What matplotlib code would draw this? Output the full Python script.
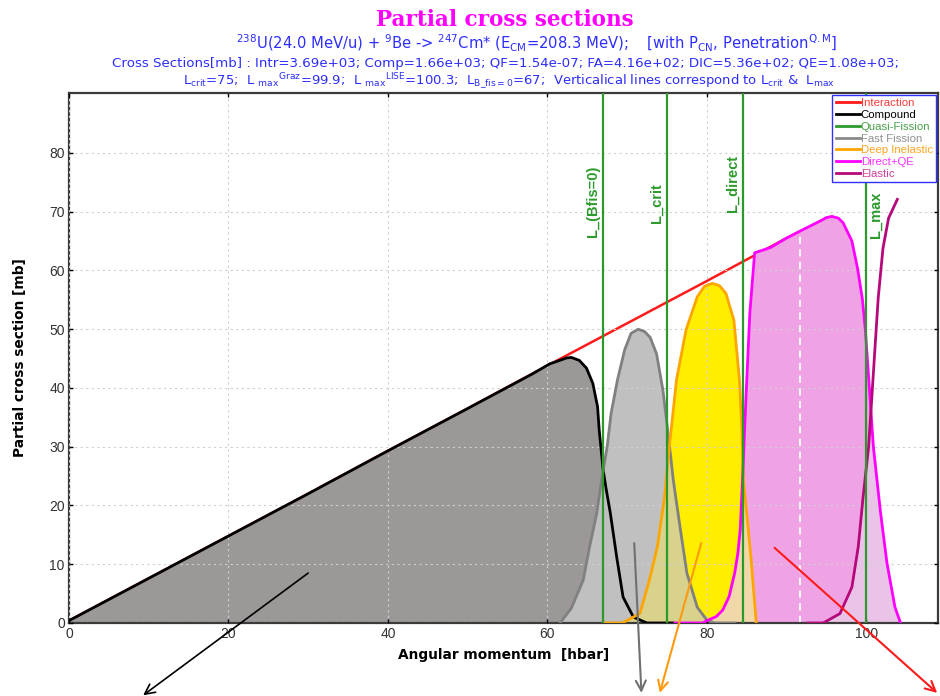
import matplotlib
matplotlib.use("Agg")
import matplotlib.pyplot as plt
from matplotlib.lines import Line2D

plt.rcParams['font.family'] = ['Liberation Sans', 'DejaVu Sans']
plt.rcParams['mathtext.fontset'] = 'dejavusans'

# ---- data (L in hbar, sigma in mb) ----
L_int = [0, 10, 20, 30, 40, 50, 60, 70, 80, 90, 94]
s_int = [0.4, 7.6, 14.8, 22.0, 29.3, 36.5, 43.8, 51.0, 58.2, 65.5, 68.2]

L_comp = [0, 10, 20, 30, 40, 50, 58, 60.3, 62.4, 63.0, 64.0, 64.9, 65.7, 66.3,
          66.5, 67.0, 67.4, 67.9, 68.7, 69.5, 70.8, 72.5, 75.7]
s_comp = [0.4, 7.6, 14.8, 22.0, 29.3, 36.5, 42.3, 44.1, 45.1, 45.2, 44.7, 43.4, 40.8, 36.8,
          32.9, 26.0, 22.6, 18.7, 11.2, 4.4, 1.0, 0.0, 0.0]

L_ff = [61.6, 63.0, 64.5, 65.3, 66.2, 66.8, 67.5, 68.0, 68.8, 69.7, 70.5, 71.4, 72.2, 72.9,
        73.7, 74.5, 75.2, 75.8, 76.7, 77.5, 78.8, 80.0, 81.0, 83.5]
s_ff = [0, 2.5, 7.3, 13.0, 18.7, 24.3, 30.0, 35.7, 41.4, 46.5, 49.3, 50.0, 49.6, 48.6,
        45.8, 39.6, 31.6, 24.3, 15.8, 8.5, 2.7, 0.5, 0, 0]

L_dic = [67.0, 69.4, 71.6, 72.8, 73.8, 74.7, 75.3, 76.2, 77.4, 78.8, 79.7, 80.7, 81.6,
         82.4, 83.4, 84.1, 84.4, 84.6, 85.0, 85.6, 86.2]
s_dic = [0, 0, 1.6, 7.3, 13.0, 21.4, 30.0, 41.4, 49.9, 55.5, 57.3, 57.8, 57.4,
         56.1, 51.5, 41.3, 32.9, 24.3, 18.7, 10.2, 0]

L_dq = [76.0, 79.5, 80.0, 81.2, 82.0, 82.8, 83.5, 83.9, 84.2, 84.5, 84.9, 85.4, 86.0,
        88.0, 90.0, 92.0, 94.2, 95.0, 95.7, 96.5, 97.1, 98.2, 98.9, 99.5, 99.9, 100.3,
        100.9, 101.8, 102.6, 103.6, 104.3]
s_dq = [0, 0, 0.4, 1.1, 2.2, 4.5, 8.5, 11.9, 16.0, 25.0, 38.0, 52.8, 63.0,
        63.9, 65.5, 66.9, 68.4, 69.0, 69.2, 68.9, 68.1, 65.0, 60.4, 55.3, 49.7, 41.8,
        29.9, 18.7, 10.2, 2.7, 0]

L_el = [92.7, 94.6, 96.7, 98.2, 99.0, 99.6, 100.3, 100.7, 101.1, 101.5, 102.1, 102.8, 103.9]
s_el = [0, 0, 1.6, 6.1, 13.0, 21.4, 30.0, 38.4, 46.9, 55.3, 63.8, 68.9, 72.1]

L_BFIS0 = 67.0
L_CRIT = 75.0
L_DIRECT = 84.5
L_MAX = 100.0
L_DASH, S_DASH = 91.7, 66.9

xticks = [0, 20, 40, 60, 80, 100]
yticks = [0, 10, 20, 30, 40, 50, 60, 70, 80]

GREEN = '#2b9a2b'

fig = plt.figure(figsize=(9.4, 6.96), dpi=100)
ax = fig.add_axes([69 / 940, 1 - 623 / 696, 869 / 940, 530 / 696])
ax.set_xlim(0, 109)
ax.set_ylim(0, 90.2)
renderer = fig.canvas.get_renderer()


def fit(t, target, vertical=False):
    bb = t.get_window_extent(renderer=renderer)
    size = bb.height if vertical else bb.width
    t.set_fontsize(t.get_fontsize() * target / size)


# fills
ax.plot(L_int, s_int, color='#ff1a1a', lw=1.8, zorder=0.5)
comp = ax.fill_between(L_comp, 0, s_comp, color='#9c9898', lw=0, zorder=1)
ff = ax.fill_between(L_ff, 0, s_ff, color='#c0c0c0', lw=0, zorder=1.1)
dic = ax.fill_between(L_dic, 0, s_dic, color='#ffee00', lw=0, zorder=1.2)
dic_path = dic.get_paths()[0]
k1 = ax.fill_between(L_ff, 0, s_ff, color='#d8d28c', lw=0, zorder=1.3)
k1.set_clip_path(dic_path, ax.transData)
k2 = ax.fill_between(L_comp, 0, s_comp, color='#d8d28c', lw=0, zorder=1.3)
k2.set_clip_path(dic_path, ax.transData)
dq = ax.fill_between(L_dq, 0, s_dq, color='#efa3e5', lw=0, zorder=1.4)
tan = ax.fill_between(L_dq, 0, s_dq, color='#f1d8a9', lw=0, zorder=1.5)
tan.set_clip_path(dic_path, ax.transData)
el = ax.fill_between(L_el, 0, s_el, color='#eac4e8', lw=0, zorder=1.6)
el.set_clip_path(dq.get_paths()[0], ax.transData)
ax.vlines(L_DASH, 0, S_DASH, colors='white', linestyles=(0, (4, 3)), lw=1.3, zorder=1.7)

# curves
ax.plot(L_comp, s_comp, color='black', lw=2, zorder=3)
ax.plot(L_ff, s_ff, color='#808080', lw=2, zorder=3)
ax.plot(L_dic, s_dic, color='#ffa500', lw=2, zorder=3.1)
ax.plot(L_dq, s_dq, color='#ff00ff', lw=2, zorder=3.2)
ax.plot(L_el, s_el, color='#b5087a', lw=2, zorder=3.3)

# vertical lines + labels
for xv in [L_BFIS0, L_CRIT, L_DIRECT, L_MAX]:
    ax.axvline(xv, color=GREEN, lw=1.6, zorder=4)
lab_kw = dict(rotation=90, color=GREEN, fontsize=10.5, fontweight='bold', va='bottom', zorder=5)
ax.text(L_BFIS0 - 0.4, 65.7, 'L_(Bfis=0)', ha='right', **lab_kw)
ax.text(L_CRIT - 0.4, 68.1, 'L_crit', ha='right', **lab_kw)
ax.text(L_DIRECT - 0.4, 70.0, 'L_direct', ha='right', **lab_kw)
ax.text(L_MAX + 0.3, 65.5, 'L_max', ha='left', **lab_kw)

# arrows below the plot
arrows = [((30.0, 8.5), (9.3, -12.3), 'black', 1.2),
          ((70.9, 13.6), (71.8, -11.9), '#707070', 1.5),
          ((79.3, 13.6), (74.1, -11.9), '#ff9a10', 1.5),
          ((88.5, 12.8), (108.9, -11.9), '#ff1a1a', 1.5)]
for start, end, c, w in arrows:
    ax.annotate('', xy=end, xytext=start, annotation_clip=False, zorder=6,
                arrowprops=dict(arrowstyle='->', color=c, lw=w, mutation_scale=18,
                                shrinkA=0, shrinkB=0))

# axes styling
ax.set_xticks(xticks)
ax.set_yticks(yticks)
ax.set_axisbelow(False)
ax.grid(True, color='#cfcfcf', linestyle=(0, (2, 3)), lw=0.8)
ax.tick_params(direction='in', length=3, width=1, top=True, right=True,
               labelsize=10, labelcolor='#333333', pad=3)
for sp in ax.spines.values():
    sp.set_linewidth(1.6)
    sp.set_color('#3a3a3a')
xl = ax.set_xlabel('Angular momentum  [hbar]', fontsize=10.5, fontweight='bold',
                   family='DejaVu Sans', va='center')
yl = ax.set_ylabel('Partial cross section [mb]', fontsize=10.5, fontweight='bold',
                   family='DejaVu Sans', va='center')
ax.xaxis.set_label_coords(0.5, -32 / 530)
ax.yaxis.set_label_coords(-49 / 869, 0.5)
fit(xl, 212)
fit(yl, 200, vertical=True)

# legend
names = ['Interaction', 'Compound', 'Quasi-Fission', 'Fast Fission',
         'Deep Inelastic', 'Direct+QE', 'Elastic']
line_cols = ['#ff1a1a', 'black', GREEN, '#8a8a8a', '#ffa500', '#ff00ff', '#b5087a']
text_cols = ['#ff3a3a', 'black', '#4aa04a', '#909090', '#ffa520', '#ff30ff', '#d0409a']
handles = [Line2D([], [], color=c, lw=2) for c in line_cols]
leg = ax.legend(handles, names, loc='upper right', bbox_to_anchor=(1.0, 1.0),
                borderaxespad=0.15, fontsize=8.2, handlelength=2.1, handletextpad=0.1,
                labelspacing=0.16, borderpad=0.3, fancybox=False, framealpha=1)
leg.get_frame().set_edgecolor('#3030ff')
leg.get_frame().set_linewidth(1)
leg.set_zorder(7)
for t, c in zip(leg.get_texts(), text_cols):
    t.set_color(c)

# header texts


def put(x, y, s, width, **kw):
    t = fig.text(x / 940, 1 - y / 696, s, ha='center', va='center', **kw)
    fit(t, width)
    return t


put(505, 20, 'Partial cross sections', 258, fontsize=16, fontweight='bold',
    family='DejaVu Serif', color='#ff00ff')
put(537, 43, r'$^{238}$U(24.0 MeV/u) + $^{9}$Be -> $^{247}$Cm* (E$_{\mathrm{CM}}$=208.3 MeV);    '
    r'[with P$_{\mathrm{CN}}$, Penetration$^{\mathrm{Q.M}}$]', 599,
    fontsize=9, color='#2d2dff', family='DejaVu Sans')
put(505, 63, 'Cross Sections[mb] : Intr=3.69e+03; Comp=1.66e+03; QF=1.54e-07; FA=4.16e+02; '
    'DIC=5.36e+02; QE=1.08e+03;', 788, fontsize=9, color='#2d2dff', family='DejaVu Sans')
put(509, 82, r'L$_{\mathrm{crit}}$=75;  L $_{\mathrm{max}}$$^{\mathrm{Graz}}$=99.9;  '
    r'L $_{\mathrm{max}}$$^{\mathrm{LISE}}$=100.3;  L$_{\mathrm{B\_fis=0}}$=67;  '
    r'Verticalical lines correspond to L$_{\mathrm{crit}}$ &  L$_{\mathrm{max}}$',
    653, fontsize=9, color='#2d2dff', family='DejaVu Sans')

fig.savefig('out.png', dpi=100)
